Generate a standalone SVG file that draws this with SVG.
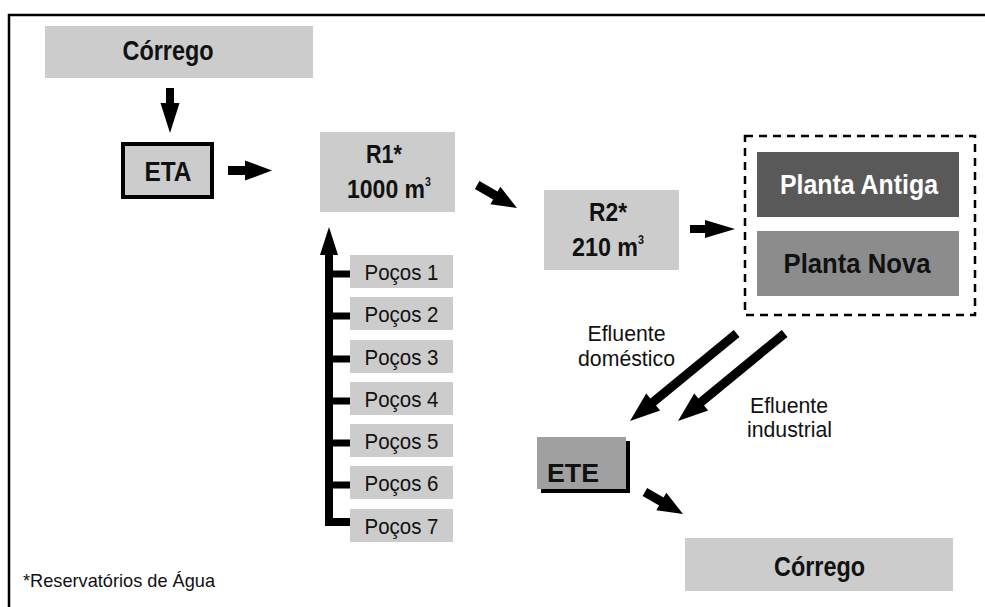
<svg xmlns="http://www.w3.org/2000/svg" width="985" height="607" viewBox="0 0 985 607">
  <style>
    .box { fill: #cccccc; }
    .bold { font-family: "Liberation Sans", Arial, sans-serif; font-weight: bold; fill: #111; }
    .reg { font-family: "Liberation Sans", Arial, sans-serif; fill: #111; }
    .arrow { fill: #000; }
    .c { text-anchor: middle; }
  </style>

  <rect width="985" height="607" fill="#fff"/>
  <!-- outer frame (top and left edges) -->
  <path d="M9,607 V15 H985" fill="none" stroke="#000" stroke-width="2.5"/>

  <g id="corrego-top">
    <rect class="box" x="45" y="26" width="268" height="52"/>
    <text class="bold c" x="168" y="60" font-size="28" textLength="91" lengthAdjust="spacingAndGlyphs">Córrego</text>
  </g>

  <g id="eta">
    <rect x="123" y="144" width="89" height="53" fill="#cccccc" stroke="#000" stroke-width="4"/>
    <text class="bold c" x="168" y="181" font-size="27" textLength="47" lengthAdjust="spacingAndGlyphs">ETA</text>
  </g>

  <g id="r1">
    <rect class="box" x="320" y="132" width="135" height="80"/>
    <text class="bold c" x="384" y="163" font-size="26" textLength="36" lengthAdjust="spacingAndGlyphs">R1*</text>
    <text class="bold" x="347" y="198" font-size="26" textLength="84" lengthAdjust="spacingAndGlyphs">1000 m<tspan font-size="12" dy="-12">3</tspan></text>
  </g>

  <g id="r2">
    <rect class="box" x="544" y="190" width="135" height="80"/>
    <text class="bold c" x="608" y="221" font-size="26" textLength="38" lengthAdjust="spacingAndGlyphs">R2*</text>
    <text class="bold" x="572" y="256" font-size="26" textLength="72" lengthAdjust="spacingAndGlyphs">210 m<tspan font-size="12" dy="-12">3</tspan></text>
  </g>

  <g id="plantas">
    <rect x="745" y="136" width="230" height="179" fill="none" stroke="#000" stroke-width="2.5" stroke-dasharray="8,6"/>
    <g id="planta-antiga">
      <rect x="757" y="152" width="202" height="65" fill="#595959"/>
      <text class="bold c" x="859" y="194" font-size="27" style="fill:#fff" textLength="158" lengthAdjust="spacingAndGlyphs">Planta Antiga</text>
    </g>
    <g id="planta-nova">
      <rect x="757" y="231" width="202" height="65" fill="#8c8c8c"/>
      <text class="bold c" x="857" y="273" font-size="27" textLength="147" lengthAdjust="spacingAndGlyphs">Planta Nova</text>
    </g>
  </g>

  <g id="pocos-1"><rect class="box" x="350" y="255" width="103" height="33"/><text class="reg c" x="401.5" y="280" font-size="22" textLength="74" lengthAdjust="spacingAndGlyphs">Poços 1</text></g>
  <g id="pocos-2"><rect class="box" x="350" y="297" width="103" height="33"/><text class="reg c" x="401.5" y="322" font-size="22" textLength="74" lengthAdjust="spacingAndGlyphs">Poços 2</text></g>
  <g id="pocos-3"><rect class="box" x="350" y="340" width="103" height="33"/><text class="reg c" x="401.5" y="365" font-size="22" textLength="74" lengthAdjust="spacingAndGlyphs">Poços 3</text></g>
  <g id="pocos-4"><rect class="box" x="350" y="382" width="103" height="33"/><text class="reg c" x="401.5" y="407" font-size="22" textLength="74" lengthAdjust="spacingAndGlyphs">Poços 4</text></g>
  <g id="pocos-5"><rect class="box" x="350" y="424" width="103" height="33"/><text class="reg c" x="401.5" y="449" font-size="22" textLength="74" lengthAdjust="spacingAndGlyphs">Poços 5</text></g>
  <g id="pocos-6"><rect class="box" x="350" y="466" width="103" height="33"/><text class="reg c" x="401.5" y="491" font-size="22" textLength="74" lengthAdjust="spacingAndGlyphs">Poços 6</text></g>
  <g id="pocos-7"><rect class="box" x="350" y="509" width="103" height="33"/><text class="reg c" x="401.5" y="534" font-size="22" textLength="74" lengthAdjust="spacingAndGlyphs">Poços 7</text></g>

  <g id="ete">
    <rect x="541" y="441" width="89" height="52" fill="#000"/>
    <rect x="537" y="437" width="89" height="52" fill="#a0a0a0"/>
    <text class="bold c" x="573" y="482" font-size="26" textLength="52" lengthAdjust="spacingAndGlyphs">ETE</text>
  </g>

  <g id="corrego-bottom">
    <rect class="box" x="685" y="538" width="268" height="53"/>
    <text class="bold c" x="819.5" y="576" font-size="28" textLength="91" lengthAdjust="spacingAndGlyphs">Córrego</text>
  </g>

  <g id="labels">
    <text class="reg c" x="626.5" y="341" font-size="22" textLength="78" lengthAdjust="spacingAndGlyphs">Efluente</text>
    <text class="reg c" x="626.5" y="366" font-size="22" textLength="97" lengthAdjust="spacingAndGlyphs">doméstico</text>
    <text class="reg c" x="789" y="413" font-size="22" textLength="78" lengthAdjust="spacingAndGlyphs">Efluente</text>
    <text class="reg c" x="789.5" y="437" font-size="22" textLength="85" lengthAdjust="spacingAndGlyphs">industrial</text>
    <text class="reg" x="23" y="587" font-size="19" textLength="192" lengthAdjust="spacingAndGlyphs">*Reservatórios de Água</text>
  </g>

  <g id="connectors">
    <!-- Córrego to ETA -->
    <path class="arrow" transform="translate(170,133) rotate(90)" d="M0,0 L-30,-9.5 L-30,-4 L-45,-4 L-45,4 L-30,4 L-30,9.5 Z"/>
    <!-- ETA to R1 -->
    <path class="arrow" transform="translate(272,170.5)" d="M0,0 L-27,-10 L-27,-4.5 L-44,-4.5 L-44,4.5 L-27,4.5 L-27,10 Z"/>
    <!-- R1 to R2 -->
    <path class="arrow" transform="translate(517,208) rotate(30)" d="M0,0 L-25,-10 L-25,-4.5 L-46,-4.5 L-46,4.5 L-25,4.5 L-25,10 Z"/>
    <!-- R2 to plants -->
    <path class="arrow" transform="translate(735,229)" d="M0,0 L-30,-9 L-30,-4 L-45,-4 L-45,4 L-30,4 L-30,9 Z"/>
    <!-- effluents to ETE -->
    <path class="arrow" transform="translate(630,421) rotate(140.6)" d="M0,0 L-30,-11 L-30,-4.5 L-138,-4.5 L-138,4.5 L-30,4.5 L-30,11 Z"/>
    <path class="arrow" transform="translate(678,421) rotate(140.6)" d="M0,0 L-30,-11 L-30,-4.5 L-138,-4.5 L-138,4.5 L-30,4.5 L-30,11 Z"/>
    <!-- ETE to Córrego -->
    <path class="arrow" transform="translate(683,514) rotate(30)" d="M0,0 L-25,-10 L-25,-4.5 L-44,-4.5 L-44,4.5 L-25,4.5 L-25,10 Z"/>
    <!-- wells collector up to R1 -->
    <path class="arrow" d="M329,227 L338,255 L320,255 Z"/>
    <rect class="arrow" x="325" y="254" width="8" height="272"/>
    <rect class="arrow" x="325" y="270.5" width="25" height="7"/>
    <rect class="arrow" x="325" y="312.5" width="25" height="7"/>
    <rect class="arrow" x="325" y="355.5" width="25" height="7"/>
    <rect class="arrow" x="325" y="397.5" width="25" height="7"/>
    <rect class="arrow" x="325" y="439.5" width="25" height="7"/>
    <rect class="arrow" x="325" y="481.5" width="25" height="7"/>
    <rect class="arrow" x="325" y="518" width="25" height="8"/>
  </g>
</svg>
